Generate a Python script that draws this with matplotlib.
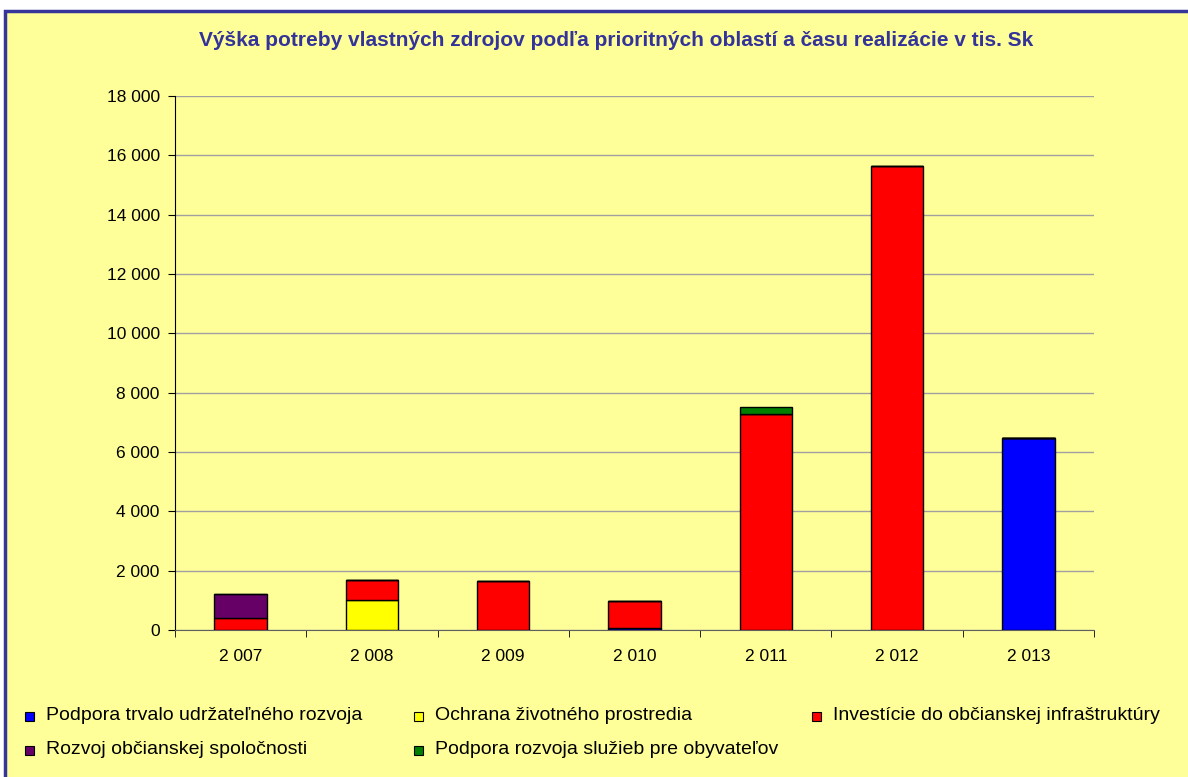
import matplotlib
matplotlib.use("Agg")
import matplotlib.pyplot as plt
from matplotlib.patches import Rectangle

plt.rcParams['font.family'] = ['Liberation Sans', 'DejaVu Sans']

years = ["2 007", "2 008", "2 009", "2 010", "2 011", "2 012", "2 013"]
series_names = [
    "Podpora trvalo udržateľného rozvoja",
    "Ochrana životného prostredia",
    "Investície do občianskej infraštruktúry",
    "Rozvoj občianskej spoločnosti",
    "Podpora rozvoja služieb pre obyvateľov",
]
podpora_trvalo = [0, 0, 0, 80, 0, 0, 6470]
ochrana = [0, 1000, 0, 0, 0, 0, 0]
investicie = [400, 700, 1650, 900, 7290, 15630, 0]
rozvoj = [800, 0, 0, 0, 0, 0, 0]
sluzby = [0, 0, 0, 0, 220, 0, 0]
colors = ["#0000ff", "#ffff00", "#ff0000", "#660066", "#008000"]

W, H = 1188, 777
fig = plt.figure(figsize=(W / 100, H / 100), dpi=100)
fig.patch.set_facecolor("white")

# outer chart frame
fig.patches.append(Rectangle((5 / W, -0.05), 1.1, 1 - 11 / H + 0.05,
                             transform=fig.transFigure, facecolor="#ffff99",
                             edgecolor="#35359a", linewidth=2.5, zorder=0))

ax = fig.add_axes([175 / W, (H - 630) / H, 919 / W, (630 - 96) / H])
ax.set_zorder(2)
ax.patch.set_alpha(0)

x = list(range(len(years)))
bottom = [0] * len(years)
for vals, c in zip([podpora_trvalo, ochrana, investicie, rozvoj, sluzby], colors):
    ax.bar(x, vals, width=0.4, bottom=bottom, color=c, edgecolor="black",
           linewidth=1.0, zorder=3)
    bottom = [b + v for b, v in zip(bottom, vals)]

ax.set_xlim(-0.5, len(years) - 0.5)
ax.set_ylim(0, 18000)
ax.set_yticks(range(0, 18001, 2000))
ax.set_yticklabels(["0" if v == 0 else f"{v // 1000} {v % 1000:03d}" for v in range(0, 18001, 2000)])
ax.yaxis.grid(True, color="#a0a0a0", linewidth=1.0, zorder=0)
ax.set_axisbelow(True)
ax.set_xticks(x)
ax.set_xticklabels(years)
ax.set_xticks([i - 0.5 for i in range(len(years) + 1)], minor=True)
ax.tick_params(axis="x", which="major", length=0, pad=14, labelsize=12.5)
ax.tick_params(axis="x", which="minor", length=5, direction="out", color="black")
ax.tick_params(axis="y", length=5, direction="out", labelsize=12.5, pad=6)
for s in ["top", "right"]:
    ax.spines[s].set_visible(False)
ax.spines["left"].set_color("black")
ax.spines["bottom"].set_color("#606060")

fig.text(616 / W, 1 - 40 / H, "Výška potreby vlastných zdrojov podľa prioritných oblastí a času realizácie v tis. Sk",
         ha="center", va="center", fontsize=15, fontweight="bold", color="#333399", zorder=3)

# legend
leg_pos = [(25, 716), (414, 716), (812, 716), (25, 750), (414, 750)]
for (px, py), name, c in zip(leg_pos, series_names, colors):
    fig.patches.append(Rectangle((px / W, 1 - (py + 5) / H), 9 / W, 9 / H,
                                 transform=fig.transFigure, facecolor=c,
                                 edgecolor="black", linewidth=0.8, zorder=3))
    fig.text((px + 21) / W, 1 - py / H, name, ha="left", va="center", fontsize=14, zorder=3)

fig.savefig("out.png", dpi=100)
